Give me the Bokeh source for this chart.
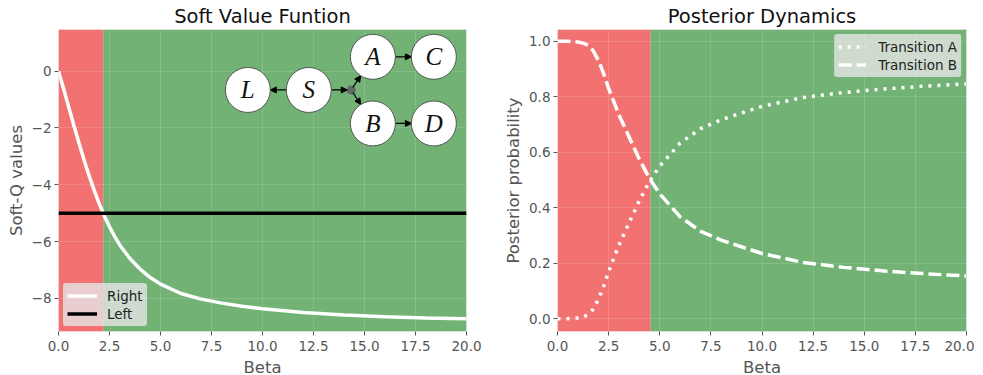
import numpy as np
from bokeh.plotting import figure
from bokeh.layouts import row
from bokeh.models import (ColumnDataSource, BoxAnnotation, Arrow, NormalHead, Legend, LegendItem,
                          FixedTicker, CustomJSTickFormatter, Range1d)
from bokeh.core.properties import value
from bokeh.embed import file_html
from bokeh.resources import INLINE

# ---------------- data ----------------
beta_q = [0, 0.25, 0.5, 0.75, 1, 1.25, 1.5, 1.75, 2, 2.25, 2.5, 2.75, 3, 3.5, 4, 4.5, 5,
          6, 7, 8, 9, 10, 12, 14, 16, 18, 20]
q_right = [0.0, -0.62, -1.26, -1.9, -2.52, -3.12, -3.68, -4.2, -4.67, -5.1, -5.48, -5.82,
           -6.12, -6.6, -6.97, -7.27, -7.5, -7.83, -8.03, -8.17, -8.28, -8.37, -8.5,
           -8.59, -8.65, -8.69, -8.72]
q_left_beta = [0, 20]
q_left = [-5.0, -5.0]
q_switch_beta = 2.2

beta_p = [0, 0.5, 1, 1.25, 1.5, 1.75, 2, 2.25, 2.5, 3, 3.5, 4, 4.5, 5, 6, 7, 8, 10, 12, 14,
          16, 18, 20]
trans_a = [0.0, 0.0, 0.003, 0.007, 0.015, 0.035, 0.07, 0.115, 0.17, 0.265, 0.345, 0.425,
           0.495, 0.55, 0.633, 0.685, 0.717, 0.765, 0.797, 0.815, 0.828, 0.838, 0.846]
trans_b = [1.0, 1.0, 0.997, 0.993, 0.985, 0.965, 0.93, 0.885, 0.83, 0.735, 0.655, 0.575,
           0.505, 0.45, 0.367, 0.315, 0.283, 0.235, 0.203, 0.185, 0.172, 0.162, 0.154]
p_switch_beta = 4.55

x_ticks = [0, 2.5, 5, 7.5, 10, 12.5, 15, 17.5, 20]
q_ticks = [0, -2, -4, -6, -8]
p_ticks = [0, 0.2, 0.4, 0.6, 0.8, 1.0]

# diagram (inset on the left panel), data units
node_names = ["L", "S", "A", "C", "B", "D"]
node_x = [9.28, 12.27, 15.41, 18.40, 15.41, 18.40]
node_y = [-0.66, -0.66, 0.507, 0.507, -1.84, -1.84]
hub_x = [14.35]
hub_y = [-0.66]
edges = [("S", "L"), ("S", "hub"), ("hub", "A"), ("hub", "B"), ("A", "C"), ("B", "D")]

RED = "#F27272"
GREEN = "#72B274"
FONT = "DejaVu Sans"
GRAYTXT = "#555555"

FW, FH = 408, 302
X_RANGE = (0, 20)
Q_RANGE = (-9.17, 1.47)
P_RANGE = (-0.046, 1.042)


def style(p, title):
    p.title.text = title
    p.title.text_font = FONT
    p.title.text_font_size = "19.5px"
    p.title.text_font_style = "normal"
    p.title.text_color = "#111111"
    p.title.align = "center"
    p.title.standoff = 4
    p.outline_line_color = None
    p.background_fill_color = "#E5E5E5"
    p.border_fill_color = "white"
    for ax in (p.xaxis[0], p.yaxis[0]):
        ax.axis_line_color = None
        ax.major_tick_line_color = GRAYTXT
        ax.major_tick_out = 4
        ax.major_tick_in = 0
        ax.minor_tick_line_color = None
        ax.major_label_text_font = FONT
        ax.major_label_text_font_size = "13.5px"
        ax.major_label_text_color = GRAYTXT
        ax.major_label_standoff = 3
        ax.axis_label_text_font = FONT
        ax.axis_label_text_font_size = "16.5px"
        ax.axis_label_text_font_style = "normal"
        ax.axis_label_text_color = GRAYTXT
        ax.axis_label_standoff = 3
    p.xaxis[0].ticker = FixedTicker(ticks=x_ticks)
    p.xaxis[0].formatter = CustomJSTickFormatter(code="return tick.toFixed(1);")
    p.xaxis[0].axis_label = "Beta"
    p.xaxis[0].major_label_standoff = 5
    p.xaxis[0].axis_label_standoff = 4
    p.grid.grid_line_color = "white"
    p.grid.grid_line_alpha = 0.14
    p.grid.grid_line_width = 1
    p.grid.level = "underlay"


def spans(p, switch):
    b1 = BoxAnnotation(left=X_RANGE[0], right=switch, fill_color=RED, fill_alpha=1.0,
                       line_color=None, level="image")
    b2 = BoxAnnotation(left=switch, right=X_RANGE[1], fill_color=GREEN, fill_alpha=1.0,
                       line_color=None, level="image")
    p.add_layout(b1)
    p.add_layout(b2)


# ---------------- left panel ----------------
p1 = figure(frame_width=FW, frame_height=FH, output_backend="svg", toolbar_location=None,
            x_range=Range1d(*X_RANGE), y_range=Range1d(*Q_RANGE),
            min_border_left=50, min_border_right=23, min_border_top=5, min_border_bottom=5)
p1.margin = (0, 0, 0, 3)
style(p1, "Soft Value Funtion")
spans(p1, q_switch_beta)
p1.yaxis[0].ticker = FixedTicker(ticks=q_ticks)
p1.yaxis[0].formatter = CustomJSTickFormatter(code="return tick.toFixed(0).replace('-', '\u2212');")
p1.yaxis[0].axis_label = "Soft-Q values"

r_right = p1.line(beta_q, q_right, line_color="white", line_width=3.5)
r_left = p1.line(q_left_beta, q_left, line_color="black", line_width=3.5)

# diagram
ux = (X_RANGE[1] - X_RANGE[0]) / FW
uy = (Q_RANGE[1] - Q_RANGE[0]) / FH
pos = {n: (x, y) for n, x, y in zip(node_names, node_x, node_y)}
pos["hub"] = (hub_x[0], hub_y[0])
rad = {n: 22.5 for n in node_names}
rad["hub"] = 3
xs0, ys0, xs1, ys1 = [], [], [], []
for a, b in edges:
    (xa, ya), (xb, yb) = pos[a], pos[b]
    dx, dy = (xb - xa) / ux, (yb - ya) / uy
    L = np.hypot(dx, dy)
    ex, ey = dx / L, dy / L
    xs0.append(xa + ex * rad[a] * ux)
    ys0.append(ya + ey * rad[a] * uy)
    xs1.append(xb - ex * (rad[b] if b != "hub" else 4) * ux)
    ys1.append(yb - ey * (rad[b] if b != "hub" else 4) * uy)
asrc = ColumnDataSource(dict(x0=xs0, y0=ys0, x1=xs1, y1=ys1))
p1.add_layout(Arrow(end=NormalHead(size=6, fill_color="black", line_color="black"),
                    source=asrc, x_start="x0", y_start="y0", x_end="x1", y_end="y1",
                    line_width=1.2, line_color="black", level="glyph"))
p1.scatter(node_x, node_y, size=45, marker="circle", fill_color="white",
           line_color="#555555", line_width=1, level="overlay")
p1.scatter(hub_x, hub_y, size=9, marker="circle", fill_color="#666666", line_color=None)
nsrc = ColumnDataSource(dict(x=node_x, y=node_y, t=node_names))
p1.text("x", "y", text="t", source=nsrc, text_font=value("Liberation Serif"),
        text_font_style="italic", text_font_size="25px", text_align="center",
        text_baseline="middle", text_color="#111111", level="overlay")

leg1 = Legend(items=[LegendItem(label="Right", renderers=[r_right]),
                     LegendItem(label="Left", renderers=[r_left])],
              location="bottom_left", margin=5)
p1.add_layout(leg1)

# ---------------- right panel ----------------
p2 = figure(frame_width=FW + 1, frame_height=FH, output_backend="svg", toolbar_location=None,
            x_range=Range1d(*X_RANGE), y_range=Range1d(*P_RANGE),
            min_border_left=68, min_border_right=8, min_border_top=5, min_border_bottom=5)
style(p2, "Posterior Dynamics")
spans(p2, p_switch_beta)
p2.yaxis[0].ticker = FixedTicker(ticks=p_ticks)
p2.yaxis[0].formatter = CustomJSTickFormatter(code="return tick.toFixed(1);")
p2.yaxis[0].axis_label = "Posterior probability"

r_a = p2.line(beta_p, trans_a, line_color="white", line_width=3.5, line_dash="3 6")
r_b = p2.line(beta_p, trans_b, line_color="white", line_width=3.5, line_dash="13 5")
leg2 = Legend(items=[LegendItem(label="Transition A", renderers=[r_a]),
                     LegendItem(label="Transition B", renderers=[r_b])],
              location="top_right", margin=5)
p2.add_layout(leg2)

for lg, gw, std in ((leg1, 30, 10), (leg2, 28, 12)):
    lg.background_fill_color = "#E5E5E5"
    lg.background_fill_alpha = 0.8
    lg.border_line_color = "#E5E5E5"
    lg.border_line_alpha = 0.0
    lg.border_radius = 3
    lg.label_text_font = FONT
    lg.label_text_font_size = "13.5px"
    lg.label_text_color = "#222222"
    lg.label_text_baseline = "middle"
    lg.glyph_width = gw
    lg.glyph_height = 17
    lg.label_height = 17
    lg.spacing = 1
    lg.padding = 4
    lg.label_standoff = std

layout = row(p1, p2)
open("out.html", "w").write(file_html(layout, INLINE))
